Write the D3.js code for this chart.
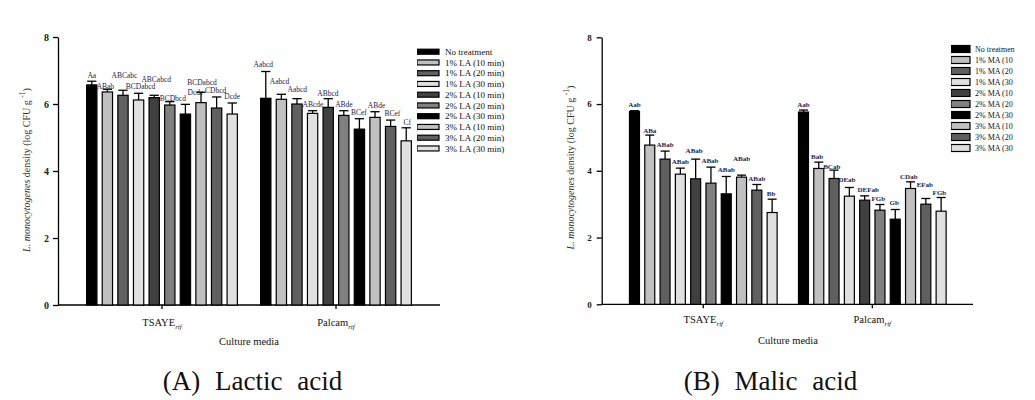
<!DOCTYPE html>
<html><head><meta charset="utf-8">
<script src="https://cdn.jsdelivr.net/npm/d3@7"></script>
<style>
body{margin:0;background:#fff}
svg{display:block}
svg text{font-family:"Liberation Serif","Tinos","Nimbus Roman","DejaVu Serif",serif}
</style>
</head><body>
<svg id="chart" width="1035" height="400"></svg>
<script>
// ---------------- DATA ----------------
const groups = ["TSAYE", "Palcam"];
const groupSub = "rif";
const laSeries = ["No treatment","1% LA (10 min)","1% LA (20 min)","1% LA (30 min)","2% LA (10 min)","2% LA (20 min)","2% LA (30 min)","3% LA (10 min)","3% LA (20 min)","3% LA (30 min)"];
const maSeries = ["No treatment","1% MA (10 min)","1% MA (20 min)","1% MA (30 min)","2% MA (10 min)","2% MA (20 min)","2% MA (30 min)","3% MA (10 min)","3% MA (20 min)","3% MA (30 min)"];

const laTSAYE    = [6.57,6.36,6.26,6.12,6.19,5.97,5.70,6.04,5.88,5.70];
const laTSAYEsd  = [0.11,0.08,0.15,0.20,0.07,0.10,0.29,0.31,0.33,0.33];
const laPalcam   = [6.17,6.14,6.00,5.72,5.90,5.66,5.25,5.60,5.33,4.90];
const laPalcamSd = [0.80,0.15,0.16,0.08,0.26,0.14,0.31,0.17,0.19,0.39];
const laTSAYElab  = ["Aa","ABab","ABCabc","BCDabcd","ABCabcd","BCDbcd","Dcde","BCDabcd","CDbcd","Dcde"];
const laPalcamLab = ["Aabcd","Aabcd","Aabcd","ABcde","ABbcd","ABde","BCef","ABde","BCef","Cf"];

const maTSAYE    = [5.78,4.77,4.35,3.90,3.76,3.63,3.31,3.81,3.42,2.75];
const maTSAYEsd  = [0.02,0.30,0.24,0.18,0.59,0.48,0.52,0.06,0.17,0.40];
const maPalcam   = [5.76,4.07,3.77,3.24,3.12,2.82,2.55,3.47,3.00,2.79];
const maPalcamSd = [0.06,0.19,0.25,0.26,0.13,0.17,0.29,0.20,0.17,0.41];
const maTSAYElab  = ["Aab","ABa","ABab","ABab","ABab","ABab","ABab","ABab","ABab","Bb"];
const maPalcamLab = ["Aab","Bab","BCab","DEab","DEFab","FGb","Gb","CDab","EFab","FGb"];

const yTicks = [0,2,4,6,8];
const xTitle = "Culture media";
const titles = ["(A) Lactic acid", "(B) Malic acid"];

// ---------------- STYLE / LAYOUT ----------------
const FONT = "'Liberation Serif','Tinos','Nimbus Roman','DejaVu Serif',serif";
const fills = ["#000000","#c0c0c0","#606060","#e0e0e0","#404040","#808080","#000000","#c0c0c0","#606060","#e0e0e0"];
const labelColor = "#1c2450";

const svg = d3.select("#chart");
const defs = svg.append("defs");

function drawPanel(cfg) {
  const g = svg.append("g").attr("font-family", FONT);
  const y = d3.scaleLinear().domain([0, 8]).range([cfg.y0, cfg.y8]);
  const x0 = d3.scaleBand().domain(groups).range(cfg.outerRange).padding(0);
  const x1 = d3.scaleBand().domain(d3.range(10)).range([0, x0.bandwidth()])
              .paddingInner(cfg.pi).paddingOuter(cfg.po);

  // y axis
  const ya = g.append("g").attr("transform", `translate(${cfg.axisX},0)`)
    .call(d3.axisLeft(y).tickValues(yTicks).tickFormat(d3.format("d")).tickSize(5).tickSizeOuter(0).tickPadding(cfg.tickPad));
  ya.attr("font-family", FONT);
  ya.selectAll("path,line").attr("stroke","#000").attr("stroke-width",1.3);
  ya.selectAll("text").attr("font-family",FONT).attr("font-size",cfg.tickFont).attr("font-weight","bold").attr("fill","#222");

  // x axis line + ticks
  g.append("line").attr("x1", cfg.axisX).attr("x2", cfg.axisEnd)
    .attr("y1", y(0)).attr("y2", y(0)).attr("stroke","#000").attr("stroke-width",1.3);
  groups.forEach(gr => {
    const cx = x0(gr) + x0.bandwidth()/2;
    g.append("line").attr("x1",cx).attr("x2",cx).attr("y1",y(0)).attr("y2",y(0)+4)
      .attr("stroke","#000").attr("stroke-width",1.3);
    const t = g.append("text").attr("x",cx).attr("y",cfg.groupLabelY).attr("text-anchor","middle")
      .attr("font-size",10.5).attr("fill","#111");
    t.append("tspan").text(gr);
    t.append("tspan").attr("dy",3).attr("font-size",7).attr("font-style","italic").text(groupSub);
  });

  // bars
  cfg.data.forEach((d, gi) => {
    const gr = groups[gi];
    d.vals.forEach((v, i) => {
      const bx = x0(gr) + x1(i);
      const bw = x1.bandwidth();
      const top = y(v + d.sd[i]);
      g.append("line").attr("x1",bx+bw/2).attr("x2",bx+bw/2).attr("y1",y(v)).attr("y2",top)
        .attr("stroke","#000").attr("stroke-width",1.3);
      g.append("line").attr("x1",bx+0.5).attr("x2",bx+bw-0.5).attr("y1",top).attr("y2",top)
        .attr("stroke","#000").attr("stroke-width",1.3);
      g.append("rect").attr("x",bx).attr("y",y(v)).attr("width",bw).attr("height",y(0)-y(v))
        .attr("fill",fills[i]).attr("stroke","#000").attr("stroke-width",1.2);
      g.append("text").attr("x",bx+bw/2 + d.ldx[i]).attr("y", top + d.ldy[i]).attr("dy","0.35em")
        .attr("text-anchor","middle").attr("font-size",cfg.labFont).attr("font-weight",cfg.labWeight)
        .attr("fill",labelColor).text(d.labs[i]);
    });
  });

  // x title
  g.append("text").attr("x",cfg.xTitleX).attr("y",cfg.xTitleY).attr("text-anchor","middle")
    .attr("font-size",10.5).attr("fill","#111").text(xTitle);

  // y title
  const yt = g.append("text").attr("transform",`translate(${cfg.yTitleX},${cfg.yTitleY}) rotate(-90)`)
    .attr("text-anchor","middle").attr("font-size",10).attr("fill","#333");
  yt.append("tspan").attr("font-style","italic").text("L. monocytogenes");
  yt.append("tspan").text(" density (log CFU g ");
  yt.append("tspan").attr("dy",-5).attr("font-size",7.5).text("-1");
  yt.append("tspan").attr("dy",5).text(")");

  // legend
  const clipId = "clip" + cfg.id;
  defs.append("clipPath").attr("id",clipId).append("rect")
    .attr("x",cfg.legX).attr("y",0).attr("width",cfg.legClipW).attr("height",400);
  const lg = g.append("g").attr("clip-path",`url(#${clipId})`);
  cfg.series.forEach((s, i) => {
    const cy = cfg.legY + i*cfg.legStep;
    lg.append("rect").attr("x",cfg.legX).attr("y",cy-cfg.swH/2).attr("width",cfg.swW).attr("height",cfg.swH)
      .attr("fill",fills[i]).attr("stroke","#000").attr("stroke-width",1.2);
    lg.append("text").attr("x",cfg.legTextX).attr("y",cy).attr("dy","0.35em")
      .attr("font-size",cfg.legFont).attr("fill","#111").text(s);
  });

  // panel title
  svg.append("text").attr("x",cfg.titleX).attr("y",390).attr("text-anchor","middle")
    .attr("font-family",FONT).attr("font-size",27).attr("fill","#111").attr("word-spacing",8)
    .text(cfg.title);
}

drawPanel({
  id:"A", y0:305, y8:37, axisX:58, axisEnd:440, outerRange:[75,423], pi:0.34, po:0.745,
  tickPad:4, tickFont:10, labFont:7.5, labWeight:"normal", groupLabelY:326,
  xTitleX:249, xTitleY:345, yTitleX:30, yTitleY:170,
  legX:417, legTextX:445, legY:51.7, legStep:10.75, swW:22, swH:5, legFont:9, legClipW:200,
  series: laSeries, titleX:252.5, title:titles[0],
  data:[
    {vals:laTSAYE, sd:laTSAYEsd, labs:laTSAYElab,
     ldx:[0,-2,1.5,2,2,3,10,1,-1,0], ldy:[-6.3,-3.3,-14.6,-7,-16.4,-3.3,-12.4,-9.6,-7,-6.3]},
    {vals:laPalcam, sd:laPalcamSd, labs:laPalcamLab,
     ldx:[-2.5,-1.8,0.3,0.3,-0.3,0.1,-0.5,1.6,1.7,1], ldy:[-6.7,-12.6,-9.4,-6.4,-5.4,-6.4,-6,-6.7,-6.7,-5.7]}
  ]
});

drawPanel({
  id:"B", y0:304.3, y8:37.3, axisX:601.7, axisEnd:973, outerRange:[618.8,956.8], pi:0.346, po:0.698,
  tickPad:5, tickFont:9, labFont:7, labWeight:"bold", groupLabelY:323,
  xTitleX:788, xTitleY:343.5, yTitleX:574, yTitleY:167.5,
  legX:951, legTextX:975, legY:49, legStep:11, swW:19, swH:7, legFont:8, legClipW:63.5,
  series: maSeries, titleX:770.5, title:titles[1],
  data:[
    {vals:maTSAYE, sd:maTSAYEsd, labs:maTSAYElab,
     ldx:[0,0,0,0,-1.5,-1,0,0,0,-1], ldy:[-5.7,-5,-6.7,-6.6,-8.3,-6.3,-6.7,-16.7,-6,-5.7]},
    {vals:maPalcam, sd:maPalcamSd, labs:maPalcamLab,
     ldx:[0,-1.7,-2.3,-2.4,3.6,-1.7,-1,-1.7,-1,-1.7], ldy:[-5.7,-6,-4,-8,-6.4,-6,-6.6,-5,-14,-5]}
  ]
});
</script>
</body></html>
